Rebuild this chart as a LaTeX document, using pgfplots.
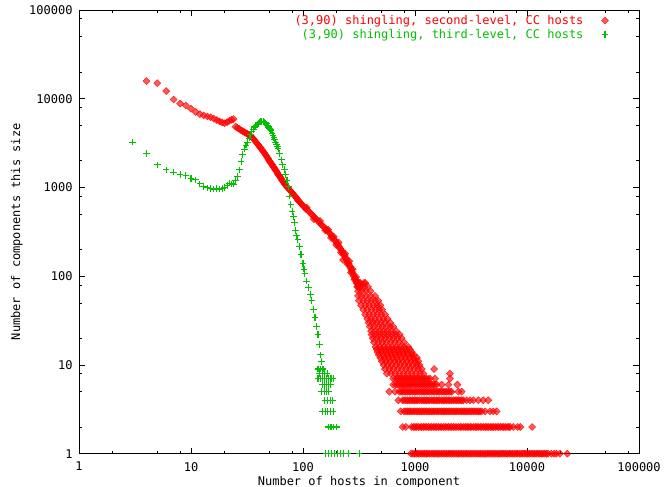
\documentclass[border=0pt]{standalone}
\usepackage{fontspec}
\setmonofont{DejaVu Sans Mono}
\usepackage{pgfplots}
\pgfplotsset{compat=1.18}
\definecolor{gpred}{RGB}{255,0,0}
\definecolor{gpgreen}{RGB}{0,192,0}
\newcommand{\gpfont}{\ttfamily\fontsize{12bp}{13bp}\selectfont}

\begin{document}
\begin{tikzpicture}
\useasboundingbox (0,0) rectangle (670bp,487bp);
\begin{axis}[
  at={(79bp,33.3bp)}, anchor=south west,
  scale only axis, width=560bp, height=443.7bp,
  xmode=log, ymode=log,
  xmin=1, xmax=100000, ymin=1, ymax=100000,
  clip=false,
  axis line style={line width=0.8bp},
  tick align=inside,
  xtick={1,10,100,1000,10000,100000},
  ytick={1,10,100,1000,10000,100000},
  xticklabels={1,10,100,1000,10000,100000},
  yticklabels={1,10,100,1000,10000,100000},
  minor xtick={2,5,8,20,50,80,200,500,800,2000,5000,8000,20000,50000,80000},
  minor ytick={2,5,8,20,50,80,200,500,800,2000,5000,8000,20000,50000,80000},
  major tick length=6bp, minor tick length=3bp,
  tick style={black, line width=0.6bp},
  ticklabel style={font=\gpfont},
  xticklabel style={yshift=-5bp},
  yticklabel style={xshift=-3bp},
  xlabel={Number of hosts in component},
  ylabel={Number of components this size},
  label style={font=\gpfont},
  xlabel style={at={(axis description cs:0.5,-0.064)}, anchor=center},
  ylabel style={at={(axis description cs:-0.111,0.5)}, anchor=center, rotate=0},
  legend style={draw=none, fill=none, at={(0.946,0.993)}, anchor=north east,
    font=\gpfont, row sep=-1bp, column sep=16bp, inner sep=0pt},
  legend cell align=right,
  legend plot pos=right,
]
% second-level: smooth head, scatter cloud, integer-count bands
\addplot[only marks, mark=square*, mark size=2.5bp,
  mark options={rotate=45, draw=gpred, fill=gpred, fill opacity=0.65, draw opacity=0.9, line width=0.4bp}]
coordinates {
(4,15800)(5,15000)(6,12200)(7,9800)(8,8800)(9,8380)(10,7700)(11,7100)(12,6700)(13,6500)
(14,6300)(15,6200)(16,5950)(17,5750)(18,5550)(19,5400)(20,5300)(21,5450)(22,5650)(23,5800)
(24,5900)(25,4850)(26,4700)(27,4560)(28,4420)(29,4300)(30,4200)(31,4090)(32,4020)(33,3900)
(34,3800)(35,3690)(36,3550)(37,3400)(38,3250)(39,3120)(40,3000)(41,2880)(42,2780)(43,2660)
(44,2560)(45,2460)(46,2360)(47,2270)(48,2180)(49,2090)(50,2000)(51,1930)(52,1870)(53,1800)
(54,1740)(55,1680)(56,1620)(57,1570)(58,1520)(59,1460)(60,1400)(61,1370)(62,1330)(63,1290)
(64,1250)(65,1210)(66,1180)(67,1150)(68,1120)(69,1090)(70,1060)(72,1010)(74,980)(76,940)
(78,900)(80,870)(82,840)(84,810)(86,780)(88,755)(90,720)(92,700)(94,680)(96,660)(98,640)
(100,625)(103,600)(106,575)(110,555)(114,530)(118,505)(122,485)(126,465)(130,445)(135,425)
(140,400)(145,385)(150,370)(155,355)(160,340)(165,328)(170,315)(175,300)(180,285)(185,272)
(190,260)(195,248)(200,237)(205,226)(210,215)(215,205)(220,196)(225,187)(230,178)(235,170)
(240,161)(245,153)(250,145)(255,139)(260,132)(265,125)(270,118)(275,112)(280,106)(285,100)
(290,96)(295,92)(300,88)(305,85)(310,81)(315,78)(320,75)
(108,590)(125,440)(142,420)(158,330)(168,335)(178,270)(188,280)(198,225)(208,240)(218,185)
(228,153)(238,180)(248,138)(258,148)(268,110)(278,120)(288,92)(298,98)(308,76)(318,84)
(300,84)(325,84)(350,84)(360,84)
(305,76)(330,76)(355,76)(380,76)
(310,68)(335,68)(365,68)(400,68)
(310,60)(335,60)(365,60)(400,60)(440,60)
(315,53)(345,53)(375,53)(405,53)(440,53)(470,53)
(330,47)(360,47)(390,47)(425,47)(460,47)(490,47)
(345,42)(375,42)(410,42)(445,42)(480,42)(510,42)
(360,37)(390,37)(425,37)(460,37)(500,37)(540,37)
(375,33)(405,33)(440,33)(480,33)(525,33)(570,33)
(385,30)(420,30)(455,30)(495,30)(540,30)(600,30)
(395,27)(430,27)(470,27)(510,27)(555,27)(600,27)(640,27)
(405,24)(440,24)(480,24)(520,24)(565,24)(615,24)(680,24)
(410,22)(445,22)(485,22)(530,22)(575,22)(625,22)(680,22)(730,22)
(420,20)(455,20)(495,20)(540,20)(590,20)(640,20)(700,20)(760,20)
(430,18)(470,18)(510,18)(555,18)(605,18)(660,18)(720,18)(800,18)
(445,16)(485,16)(530,16)(575,16)(625,16)(680,16)(740,16)(800,16)(870,16)
(455,15)(495,15)(540,15)(590,15)(640,15)(700,15)(760,15)(830,15)(900,15)
(465,14)(505,14)(550,14)(600,14)(655,14)(715,14)(780,14)(850,14)(930,14)
(475,13)(520,13)(565,13)(615,13)(670,13)(730,13)(795,13)(865,13)(940,13)(980,13)
(490,12)(535,12)(580,12)(635,12)(690,12)(750,12)(820,12)(890,12)(970,12)(1040,12)
(505,11)(550,11)(600,11)(655,11)(710,11)(775,11)(845,11)(920,11)(1000,11)(1070,11)
(525,10)(570,10)(620,10)(680,10)(740,10)(805,10)(875,10)(955,10)(1040,10)(1100,10)
(540,9)(590,9)(640,9)(700,9)(760,9)(830,9)(900,9)(980,9)(1070,9)(1150,9)(1480,9)
(560,8)(610,8)(665,8)(725,8)(790,8)(860,8)(935,8)(1020,8)(1110,8)(1190,8)(2050,8)
(640,7)(675,7)(725,7)(775,7)(830,7)(890,7)(955,7)(1020,7)(1100,7)(1180,7)(1260,7)(1360,7)
(700,7)(750,7)(800,7)(860,7)(920,7)(990,7)(1060,7)(1140,7)(1220,7)(1310,7)
(1510,7)(2050,7)
(640,6)(675,6)(725,6)(775,6)(830,6)(890,6)(955,6)(1020,6)(1100,6)(1180,6)(1260,6)(1350,6)
(700,6)(750,6)(800,6)(860,6)(920,6)(990,6)(1060,6)(1140,6)(1220,6)(1305,6)(1400,6)(1500,6)
(1450,6)(1560,6)(1730,6)(1990,6)(2390,6)
(590,5)(663,5)(725,5)(775,5)(830,5)(890,5)(955,5)(1020,5)(1100,5)(1180,5)(1260,5)(1350,5)
(1450,5)(1550,5)(1660,5)(1780,5)(1910,5)(2050,5)(2120,5)(2440,5)(2610,5)
(750,5)(800,5)(860,5)(920,5)(990,5)(1060,5)(1140,5)(1220,5)(1305,5)(1400,5)(1500,5)(1605,5)
(1720,5)(1845,5)(1980,5)
(710,4)(775,4)(830,4)(890,4)(955,4)(1020,4)(1100,4)(1180,4)(1260,4)(1350,4)(1450,4)(1550,4)
(1660,4)(1780,4)(1910,4)(2050,4)(2200,4)(2360,4)(2530,4)(2700,4)(2890,4)(3100,4)(3320,4)
(3680,4)(4070,4)(4510,4)
(800,4)(860,4)(920,4)(990,4)(1060,4)(1140,4)(1220,4)(1305,4)(1400,4)(1500,4)(1605,4)(1720,4)
(1845,4)(1980,4)(2125,4)(2280,4)(2445,4)(2615,4)
(745,3)(800,3)(860,3)(920,3)(990,3)(1060,3)(1140,3)(1220,3)(1310,3)(1400,3)(1500,3)(1610,3)
(1730,3)(1850,3)(1980,3)(2120,3)(2270,3)(2430,3)(2610,3)(2790,3)(2990,3)(3200,3)(3430,3)
(3680,3)(3940,3)(4230,3)(4670,3)(5000,3)(5360,3)
(830,3)(890,3)(955,3)(1025,3)(1100,3)(1180,3)(1265,3)(1355,3)(1450,3)(1555,3)(1670,3)(1790,3)
(1915,3)(2050,3)(2195,3)(2350,3)(2520,3)(2700,3)(2890,3)(3095,3)(3315,3)(3555,3)(3810,3)
(776,2)(830,2)(934,2)(1000,2)(1070,2)(1150,2)(1230,2)(1320,2)(1410,2)(1510,2)(1620,2)(1730,2)
(1860,2)(1990,2)(2130,2)(2280,2)(2450,2)(2620,2)(2810,2)(3010,2)(3220,2)(3450,2)(3700,2)
(3960,2)(4240,2)(4550,2)(4870,2)(5220,2)(5590,2)(5990,2)(6420,2)(6880,2)(7050,2)(7550,2)
(8240,2)(8700,2)(11100,2)
(967,2)(1035,2)(1110,2)(1190,2)(1275,2)(1365,2)(1460,2)(1565,2)(1675,2)(1795,2)(1925,2)
(2060,2)(2205,2)(2365,2)(2535,2)(2715,2)(2910,2)(3115,2)(3335,2)(3575,2)(3830,2)(4100,2)
(4395,2)(4710,2)(5045,2)(5405,2)(5790,2)(6205,2)(6650,2)
(920,1)(960,1)(1030,1)(1100,1)(1180,1)(1260,1)(1350,1)(1450,1)(1550,1)(1660,1)(1780,1)
(1910,1)(2050,1)(2200,1)(2360,1)(2530,1)(2710,1)(2900,1)(3110,1)(3340,1)(3580,1)(3840,1)
(4110,1)(4410,1)(4730,1)(5070,1)(5430,1)(5820,1)(6240,1)(6690,1)(7170,1)(7690,1)(8240,1)
(8830,1)(9470,1)(10150,1)(10880,1)(11660,1)(12500,1)(13400,1)(14370,1)(15400,1)(16500,1)
(17500,1)(18300,1)(19700,1)(22900,1)
(995,1)(1065,1)(1140,1)(1220,1)(1305,1)(1400,1)(1500,1)(1605,1)(1720,1)(1845,1)(1980,1)
(2125,1)(2280,1)(2445,1)(2620,1)(2805,1)(3005,1)(3225,1)(3460,1)(3710,1)(3975,1)(4260,1)
(4570,1)(4900,1)(5250,1)(5625,1)(6030,1)(6465,1)(6930,1)(7430,1)(7965,1)(8535,1)(9150,1)
(9810,1)(10515,1)(11270,1)(12080,1)(12950,1)(13885,1)(14885,1)
};
\addlegendentry{\textcolor{gpred}{(3,90) shingling, second-level, CC hosts}}
% third-level
\addplot[only marks, mark=+, mark size=3.3bp,
  mark options={draw=gpgreen, line width=1.1bp}]
coordinates {
(3,3240)(4,2410)(5,1800)(6,1580)(7,1490)(8,1390)(9,1370)(10,1270)(11,1220)(12,1100)
(13,1030)(14,990)(15,980)(16,960)(17,970)(18,960)(19,980)(20,1000)(21,1060)(22,1120)
(23,1100)(24,1090)(25,1200)(26,1330)(27,1580)(28,1950)(29,2350)(30,2700)(31,3000)(32,3240)
(33,3600)(34,3950)(35,4250)(36,4500)(37,4800)(38,5000)(39,5150)(40,5300)(41,5450)(42,5550)
(43,5550)(44,5500)(45,5450)(46,5350)(47,5200)(48,5000)(49,4800)(50,4650)(51,4500)(52,4350)
(53,4100)(54,3850)(55,3650)(56,3450)(57,3250)(58,3050)(59,2900)(60,2770)(62,2400)(64,2050)
(66,1800)(68,1600)(70,1400)(72,1200)(74,1030)(76,800)(78,640)(80,540)(82,470)(84,400)
(86,330)(88,285)(90,258)(93,215)(96,175)(100,140)(102,120)(104,108)(108,88)(112,75)
(116,62)(120,53)(124,42)(128,34)(132,27)(136,22)(140,17)(144,13)(146,11)
(136,9)(143,9)(151,9)
(141,8)(148,8)(156,8)(164,8)
(136,7)(142,7)(148,7)(155,7)(162,7)(170,7)(178,7)(186,7)
(148,6)(155,6)(162,6)(170,6)(175,6)
(147,5)(155,5)(162,5)(169,5)
(157,4)(165,4)(175,4)(185,4)
(150,3)(158,3)(166,3)(175,3)(186,3)
(169,2)(178,2)(188,2)(198,2)
(160,1)(170,1)(180,1)(190,1)(205,1)(215,1)(230,1)(253,1)(317,1)
};
\addlegendentry{\textcolor{gpgreen}{(3,90) shingling, third-level, CC hosts}}
\end{axis}
\end{tikzpicture}
\end{document}
